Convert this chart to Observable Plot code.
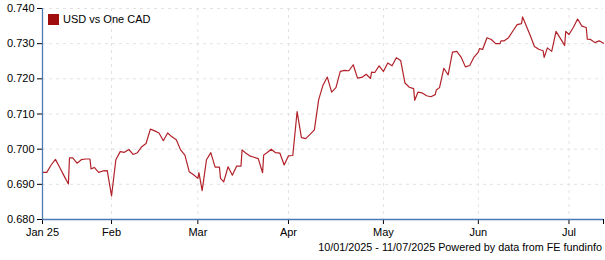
<!DOCTYPE html>
<html><head><meta charset="utf-8">
<script src="https://cdn.jsdelivr.net/npm/d3@7"></script>
<script src="https://cdn.jsdelivr.net/npm/@observablehq/plot@0.6"></script>
<style>
body{margin:0;background:#fff;font-family:"Liberation Sans",Arial,sans-serif;}
#wrap{position:relative;width:605px;height:260px;}
#legend{position:absolute;left:48px;top:13px;font-size:11px;line-height:13px;color:#000;display:flex;align-items:center;}
#legend span.sw{display:inline-block;width:11px;height:11px;background:#a00d0d;margin-right:4px;}
#footer{position:absolute;right:3px;top:241px;font-size:10.8px;line-height:13px;color:#000;white-space:nowrap;}
</style></head>
<body><div id="wrap"><div id="chart"></div>
<div id="legend"><span class="sw"></span><span>USD vs One CAD</span></div>
<div id="footer">10/01/2025 - 11/07/2025 Powered by data from FE fundinfo</div></div>
<script>
// Daily (weekday) USD per one CAD, 10 Jan 2025 – 11 Jul 2025, by trading-day index
const values = [
0.6934,0.6934,0.6955,0.6971,0.6948,0.6924,0.6901,0.6975,0.6960,0.6970,
0.6972,0.6972,0.6948,0.6934,0.6938,0.6939,0.6867,0.6970,0.6993,0.6991,
0.6999,0.6985,0.6990,0.7007,0.7016,0.7057,0.7052,0.7046,0.7024,0.7046,
0.7035,0.7027,0.6998,0.6983,0.6936,0.6927,0.6917,0.6882,0.6970,0.6990,
0.6949,0.6949,0.6907,0.6950,0.6926,0.6952,0.6952,0.6990,0.6981,0.6977,
0.6973,0.6933,0.6990,0.7000,0.6990,0.6989,0.6955,0.6981,0.6982,0.7107,
0.7033,0.7030,0.7042,0.7055,0.7141,0.7182,0.7205,0.7162,0.7175,0.7221,
0.7224,0.7223,0.7240,0.7202,0.7204,0.7213,0.7201,0.7218,0.7237,0.7221,
0.7245,0.7237,0.7260,0.7252,0.7188,0.7176,0.7172,0.7162,0.7160,0.7152,
0.7149,0.7155,0.7175,0.7230,0.7211,0.7276,0.7278,0.7262,0.7234,0.7238,
0.7262,0.7276,0.7284,0.7317,0.7312,0.7300,0.7300,0.7308,0.7317,0.7336,
0.7354,0.7357,0.7354,0.7324,0.7292,0.7284,0.7280,0.7288,0.7278,0.7335,
0.7315,0.7295,0.7326,0.7346,0.7370,0.7350,0.7346,0.7312,0.7303,0.7308,
0.7301];
// extra intraday points just after some trading days: [trading-day index, value]
const extraIndex = [6,11,36,41,46,51,76,86,91,101,106,111,116,121,126];
const extraValue = [0.6975,0.6944,0.6933,0.6917,0.6998,0.6983,0.7219,0.7139,0.7168,0.7286,0.7308,0.7376,0.7261,0.7335,0.7313];
const xTickIndex = [0,16,36,57,79,101,122,130];
const xTickLabels = ["Jan 25","Feb","Mar","Apr","May","Jun","Jul",""];
const yTicks = [0.68,0.69,0.70,0.71,0.72,0.73,0.74];

const data = values.map((v,i)=>({x:i,y:v}));
extraIndex.forEach((k,j)=>data.push({x:k+0.25,y:extraValue[j]}));
data.sort((a,b)=>a.x-b.x);
const labelOf = new Map(xTickIndex.map((p,i)=>[p,xTickLabels[i]]));
const axisColor = "#4a7ab4";

const chart = Plot.plot({
  width:605, height:240,
  marginLeft:42, marginRight:2, marginTop:8, marginBottom:21,
  x:{domain:[0,130]},
  y:{domain:[0.68,0.74]},
  style:{fontFamily:"'Liberation Sans', Arial, sans-serif", fontSize:"11px", color:"#000", background:"#fff", overflow:"visible"},
  marks:[
    Plot.gridY(yTicks.slice(1),{stroke:"#e2e2e2",strokeOpacity:1,strokeDasharray:"3,4"}),
    Plot.gridX(xTickIndex.slice(1,-1),{stroke:"#e2e2e2",strokeOpacity:1,strokeDasharray:"3,4"}),
    Plot.line(data,{x:"x",y:"y",stroke:"#b2222a",strokeWidth:1.2}),
    Plot.axisY(yTicks,{tickFormat:d=>d.toFixed(3),tickSize:5,tickPadding:3,stroke:"#000",fill:"#000",label:null}),
    Plot.axisX(xTickIndex,{tickFormat:d=>labelOf.get(d),tickSize:5,tickPadding:4,stroke:"#000",fill:"#000",label:null}),
    Plot.ruleX([0],{stroke:axisColor,strokeWidth:1.3}),
    Plot.ruleY([0.68],{stroke:axisColor,strokeWidth:1.3})
  ]
});
document.getElementById("chart").appendChild(chart);
</script></body></html>
